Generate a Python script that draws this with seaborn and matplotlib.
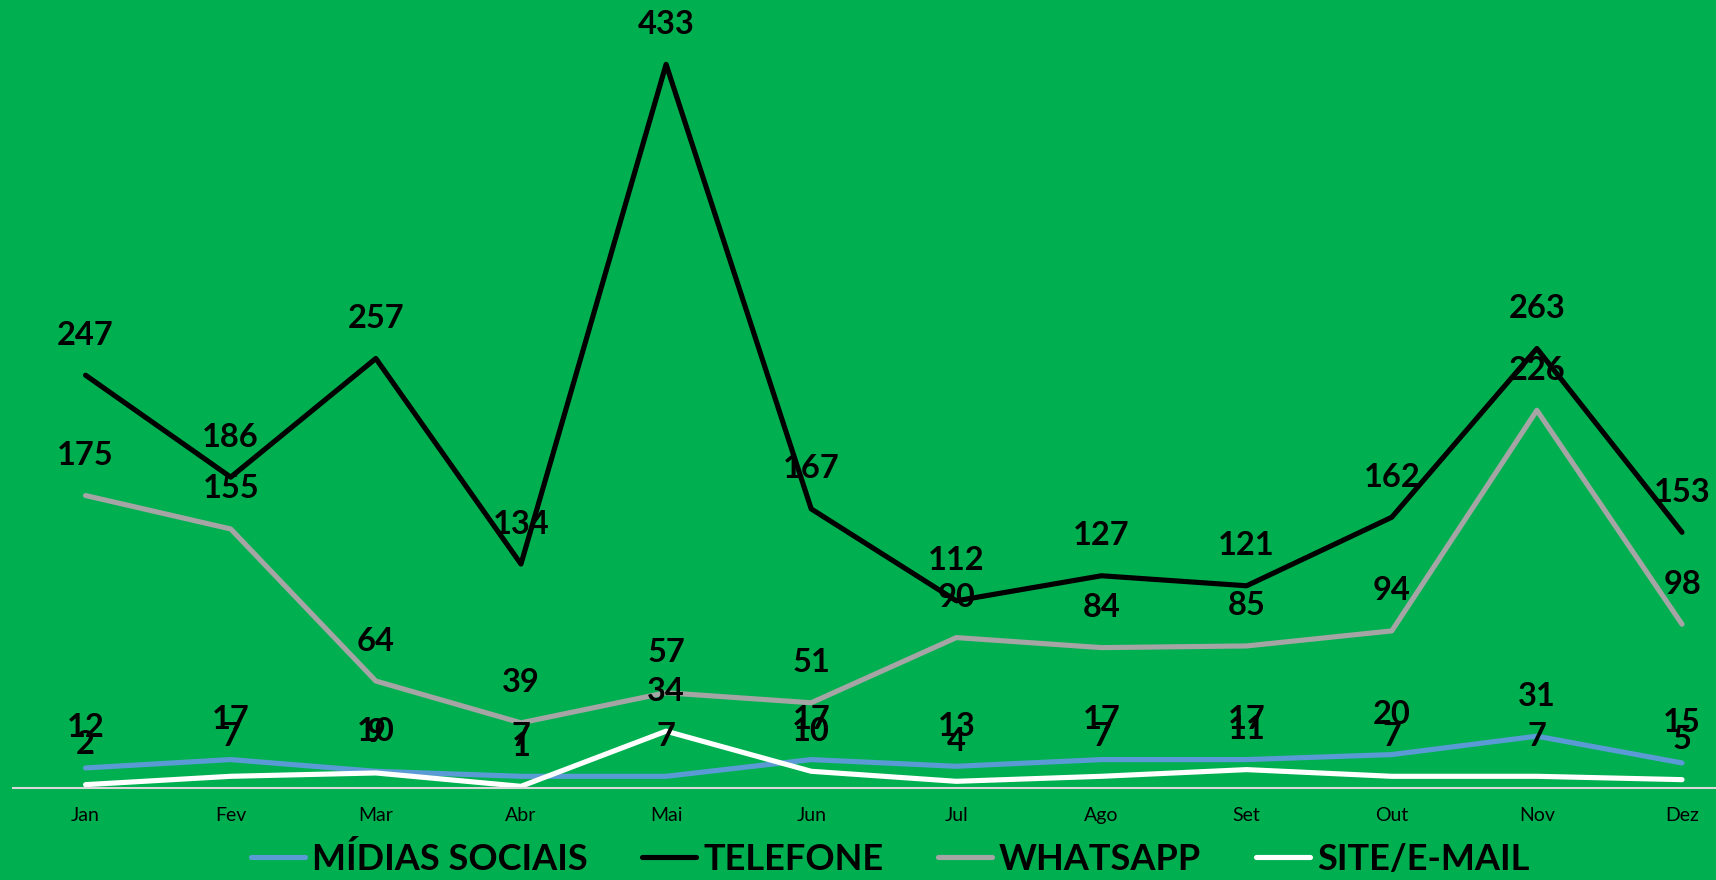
import numpy as np
import pandas as pd
import matplotlib
matplotlib.use("Agg")
import matplotlib.pyplot as plt
import seaborn as sns

# Dados
meses = ['Jan', 'Fev', 'Mar', 'Abr', 'Mai', 'Jun', 'Jul', 'Ago', 'Set', 'Out', 'Nov', 'Dez']
midias_sociais = [12, 17, 10, 7, 7, 17, 13, 17, 17, 20, 31, 15]
telefone = [247, 186, 257, 134, 433, 167, 112, 127, 121, 162, 263, 153]
whatsapp = [175, 155, 64, 39, 57, 51, 90, 84, 85, 94, 226, 98]
site_email = [2, 7, 9, 1, 34, 10, 4, 7, 11, 7, 7, 5]

canais = ['MÍDIAS SOCIAIS', 'TELEFONE', 'WHATSAPP', 'SITE/E-MAIL']
cores = ['#5B9BD5', '#000000', '#A5A5A5', '#FFFFFF']

df = pd.DataFrame({'mes': meses, canais[0]: midias_sociais, canais[1]: telefone,
                   canais[2]: whatsapp, canais[3]: site_email})
df_long = df.melt(id_vars='mes', var_name='canal', value_name='valor')

verde = '#00B050'
sns.set_style('white')
plt.rcParams['font.family'] = ['Lato', 'DejaVu Sans']
plt.rcParams['text.color'] = 'black'

fig = plt.figure(figsize=(17.16, 8.8), dpi=100, facecolor=verde)
ax = fig.add_axes([13 / 1716, 1 - 788 / 880, 1 - 13 / 1716, 788 / 880])
ax.set_facecolor(verde)

sns.lineplot(data=df_long, x='mes', y='valor', hue='canal', hue_order=canais,
             palette=dict(zip(canais, cores)), sort=False, linewidth=3.7,
             solid_capstyle='round', ax=ax, legend=True)

# Rótulos de dados
for canal in canais:
    for i, v in enumerate(df[canal]):
        ax.annotate(str(v), (i, v), xytext=(0, 40), textcoords='offset pixels',
                    ha='center', va='center', fontsize=23.5, fontweight='bold',
                    color='black', zorder=5)

ax.set_xlim(-0.5, 11 + 34 / 145.2)
ax.set_ylim(0, 471.5)
ax.set_xlabel('')
ax.set_ylabel('')
ax.set_yticks([])
for s in ['top', 'left', 'right']:
    ax.spines[s].set_visible(False)
ax.spines['bottom'].set_color('#D9D9D9')
ax.spines['bottom'].set_linewidth(1.5)
ax.tick_params(axis='x', length=0, pad=14, labelsize=14, colors='black')

leg = ax.legend(loc='center', bbox_to_anchor=(890 / 1716, 1 - 859 / 880),
                bbox_transform=fig.transFigure, ncol=4, frameon=False,
                prop={'size': 26, 'weight': 'bold'}, handlelength=1.5,
                handletextpad=0.2, columnspacing=1.5, labelcolor='black')
for h in leg.get_lines():
    h.set_linewidth(3.7)

fig.savefig('out.png', dpi=100, facecolor=verde)
